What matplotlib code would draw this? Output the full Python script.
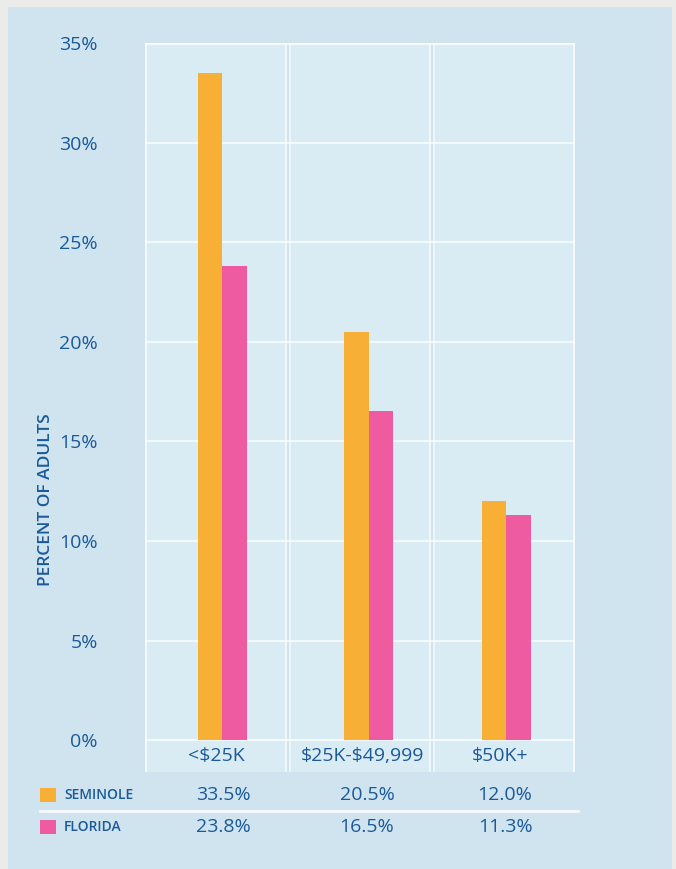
import matplotlib.pyplot as plt
from matplotlib.patches import Rectangle

categories = ["<$25K", "$25K-$49,999", "$50K+"]
seminole = [33.5, 20.5, 12.0]
florida = [23.8, 16.5, 11.3]
yticks = [0, 5, 10, 15, 20, 25, 30, 35]

orange = "#f7b035"
pink = "#ef5ba1"
text_blue = "#1b5a99"
panel_blue = "#cfe4ef"
inner_blue = "#d9ebf3"

plt.rcParams["font.family"] = ["Open Sans", "DejaVu Sans"]
plt.rcParams["text.parse_math"] = False

W, H = 676, 869
fig = plt.figure(figsize=(W / 100, H / 100), dpi=100)
fig.patch.set_facecolor("#ebebe9")
bg = Rectangle((8 / W, 0), 664 / W, (H - 7) / H, transform=fig.transFigure,
               facecolor=panel_blue, edgecolor="none", zorder=-10)
fig.add_artist(bg)

# main axes: left 145px, right 575px, top 43px, bottom 772px
ax = fig.add_axes([145 / W, (H - 772) / H, 430 / W, (772 - 43) / H])
ax.set_facecolor(inner_blue)
ax.set_xlim(-0.5, 2.5)
ax.set_ylim(-1.6, 35)

# panel separators
for b in [0.5, 1.5]:
    ax.axvspan(b - 0.015, b + 0.015, color=panel_blue, zorder=1)
    ax.axvline(b - 0.015, color="white", lw=1.2, alpha=0.8, zorder=1)
    ax.axvline(b + 0.015, color="white", lw=1.2, alpha=0.8, zorder=1)

for y in yticks:
    ax.axhline(y, color="white", lw=1.6, alpha=0.7, zorder=2)
ax.axvline(-0.49, color="white", lw=1.5, alpha=0.7, zorder=2)
ax.axvline(2.49, color="white", lw=1.5, alpha=0.7, zorder=2)
ax.axhline(35, color="white", lw=3, alpha=0.7, zorder=2)

w = 0.172
x = [0.04, 1.06, 2.02]
ax.bar([i - w / 2 for i in x], seminole, width=w, color=orange, zorder=3)
ax.bar([i + w / 2 for i in x], florida, width=w, color=pink, zorder=3)

for s in ax.spines.values():
    s.set_visible(False)
ax.set_xticks([])
ax.set_yticks(yticks)
ax.set_yticklabels([f"{v}%" for v in yticks], fontsize=14, color=text_blue)
ax.tick_params(axis="y", length=0, pad=34)

for i, c in zip(x, categories):
    ax.text(i - 0.04, -0.8, c, ha="center", va="center", fontsize=14,
            color=text_blue)

fig.text(46 / W, 1 - 500 / H, "PERCENT OF ADULTS", rotation=90, ha="center",
         va="center", fontsize=12.5, fontweight="semibold", color=text_blue)

# table under chart
col_x = [223, 367, 505]
rows = [("SEMINOLE", orange, seminole, 795), ("FLORIDA", pink, florida, 827)]
for name, col, vals, yp in rows:
    fig.add_artist(Rectangle((40 / W, 1 - (yp + 7) / H), 16 / W, 14 / H,
                             transform=fig.transFigure, facecolor=col,
                             edgecolor="none"))
    fig.text(64 / W, 1 - yp / H, name, ha="left", va="center", fontsize=10,
             fontweight="semibold", color=text_blue)
    for cx, v in zip(col_x, vals):
        fig.text(cx / W, 1 - yp / H, f"{v:.1f}%", ha="center", va="center",
                 fontsize=14, color=text_blue)
fig.add_artist(plt.Line2D([40 / W, 578 / W], [1 - 811 / H, 1 - 811 / H],
                          transform=fig.transFigure, color="white", lw=2,
                          alpha=0.8))

fig.savefig("out.png", dpi=100, facecolor=fig.get_facecolor())
